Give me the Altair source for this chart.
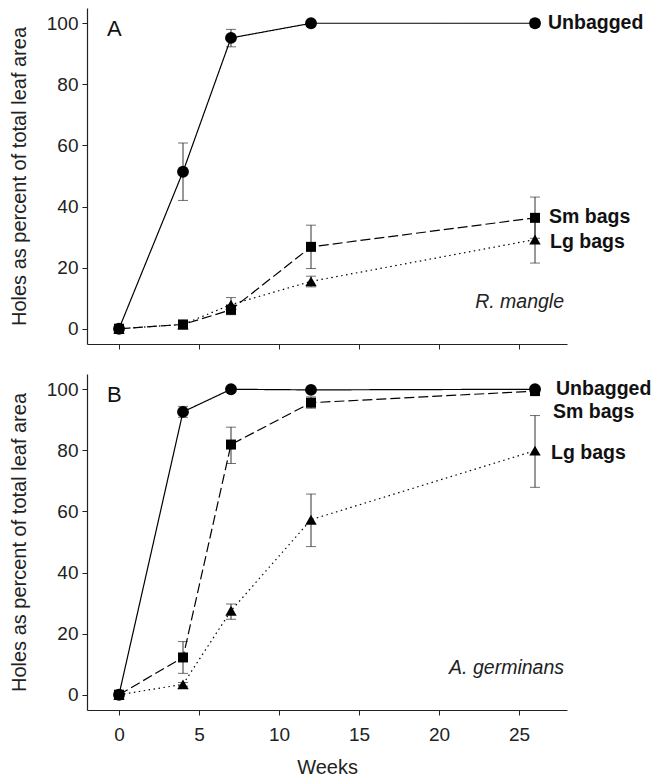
import altair as alt
import pandas as pd

# ---------------- data ----------------
weeks = [0, 4, 7, 12, 26]
series_names = ["Unbagged", "Sm bags", "Lg bags"]

# Panel A  (R. mangle)
a_unb = [0, 51.4, 95.2, 100.0, 100.0]
a_unb_lo = [0, 42.0, 92.3, 100.0, 98.8]
a_unb_hi = [0, 60.8, 98.0, 100.0, 101.3]
a_sm = [0, 1.4, 6.2, 26.8, 36.3]
a_sm_lo = [0, 0.7, 4.6, 19.7, 29.6]
a_sm_hi = [0, 2.1, 7.8, 33.9, 43.1]
a_lg = [0, 1.4, 7.9, 15.5, 29.2]
a_lg_lo = [0, 0.7, 5.6, 13.7, 21.5]
a_lg_hi = [0, 2.1, 10.2, 17.2, 36.9]

# Panel B  (A. germinans)
b_unb = [0, 92.6, 100.0, 99.8, 100.0]
b_unb_lo = [0, 90.8, 100.0, 99.8, 99.4]
b_unb_hi = [0, 94.4, 100.0, 99.8, 100.6]
b_sm = [0, 12.2, 81.9, 95.6, 99.4]
b_sm_lo = [0, 7.0, 75.7, 93.8, 99.0]
b_sm_hi = [0, 17.4, 87.6, 97.5, 99.8]
b_lg = [0, 3.4, 27.5, 57.3, 79.9]
b_lg_lo = [0, 2.8, 24.7, 48.5, 67.9]
b_lg_hi = [0, 4.0, 29.7, 65.7, 91.4]

x_ticks = [0, 5, 10, 15, 20, 25]
y_ticks = [0, 20, 40, 60, 80, 100]


def panel_df(vals, los, his):
    rows = []
    for s, v, lo, hi in zip(series_names, vals, los, his):
        for w, a, b, c in zip(weeks, v, lo, hi):
            rows.append(dict(series=s, week=w, value=a, lo=b, hi=c))
    return pd.DataFrame(rows)


df_a = panel_df([a_unb, a_sm, a_lg], [a_unb_lo, a_sm_lo, a_lg_lo], [a_unb_hi, a_sm_hi, a_lg_hi])
df_b = panel_df([b_unb, b_sm, b_lg], [b_unb_lo, b_sm_lo, b_lg_lo], [b_unb_hi, b_sm_hi, b_lg_hi])

FONT = "Liberation Sans"
W, H = 480, 336

x_scale = alt.Scale(domain=[-2, 28], nice=False, zero=False)
y_scale = alt.Scale(domain=[-5, 105], nice=False, zero=False)
dash_scale = alt.Scale(domain=series_names, range=[[1, 0], [10, 4], [1.5, 3.5]])
marker_style = {"Unbagged": ("circle", 140), "Sm bags": ("square", 100), "Lg bags": ("triangle-up", 130)}


def make_panel(df, letter, species, label_shift, show_x):
    if show_x:
        x_axis = alt.Axis(values=x_ticks, title="Weeks", labelPadding=10, titlePadding=13,
                          titleFontSize=20)
    else:
        x_axis = alt.Axis(values=x_ticks, labels=False, title=None)
    y_axis = alt.Axis(values=y_ticks, title="Holes as percent of total leaf area",
                      titlePadding=17, titleFontSize=20)
    X = alt.X("week:Q", scale=x_scale, axis=x_axis)

    base = alt.Chart(df)
    errs = base.transform_filter("datum.hi > datum.lo")
    rules = errs.mark_rule(color="#333", strokeWidth=1).encode(
        x=X, y=alt.Y("lo:Q", scale=y_scale, axis=y_axis), y2="hi:Q",
    )
    cap_lo = errs.mark_tick(color="#333", orient="horizontal", size=10, thickness=1).encode(
        x=X, y=alt.Y("lo:Q", scale=y_scale, axis=y_axis),
    )
    cap_hi = errs.mark_tick(color="#333", orient="horizontal", size=10, thickness=1).encode(
        x=X, y=alt.Y("hi:Q", scale=y_scale, axis=y_axis),
    )
    lines = base.mark_line(color="black", strokeWidth=1.2).encode(
        x=X,
        y=alt.Y("value:Q", scale=y_scale, axis=y_axis),
        detail="series:N",
        strokeDash=alt.StrokeDash("series:N", scale=dash_scale, legend=None),
        order="week:Q",
    )
    layers = [rules, cap_lo, cap_hi, lines]
    for s in series_names:
        shp, sz = marker_style[s]
        pts = base.transform_filter(alt.datum.series == s).mark_point(
            filled=True, color="black", opacity=1, shape=shp, size=sz,
        ).encode(x=X, y=alt.Y("value:Q", scale=y_scale, axis=y_axis))
        layers.append(pts)

    last = df[df.week == weeks[-1]]
    for s in series_names:
        row = last[last.series == s]
        dx, dy = label_shift[s]
        lab = alt.Chart(row).mark_text(
            align="left", baseline="middle", font=FONT, fontSize=19.5, fontWeight="bold",
            color="#111", dx=dx, dy=dy,
        ).encode(
            x=X, y=alt.Y("value:Q", scale=y_scale, axis=y_axis), text="series:N",
        )
        layers.append(lab)

    letter_t = alt.Chart(pd.DataFrame({"t": [letter]})).mark_text(
        align="left", baseline="alphabetic", font=FONT, fontSize=22, color="#111",
    ).encode(text="t:N", x=alt.value(20), y=alt.value(28))
    species_t = alt.Chart(pd.DataFrame({"t": [species]})).mark_text(
        align="right", baseline="alphabetic", font=FONT, fontSize=19.5, fontStyle="italic",
        color="#222",
    ).encode(text="t:N", x=alt.value(477), y=alt.value(300))
    layers += [letter_t, species_t]

    return alt.layer(*layers).properties(width=W, height=H)


panel_a = make_panel(
    df_a, "A", "R. mangle",
    {"Unbagged": (13, 0), "Sm bags": (14, -1), "Lg bags": (15, 2)},
    show_x=False,
)
panel_b = make_panel(
    df_b, "B", "A. germinans",
    {"Unbagged": (21, 0), "Sm bags": (18, 21), "Lg bags": (16, 2)},
    show_x=True,
)

chart = alt.vconcat(panel_a, panel_b, spacing=24).properties(
    padding={"left": 9, "top": 8, "right": 0, "bottom": 0}
).configure_view(stroke=None).configure_axis(
    grid=False,
    domainColor="#222",
    tickColor="#222",
    domainWidth=1.2,
    tickSize=5,
    labelFont=FONT,
    titleFont=FONT,
    labelFontSize=19,
    titleFontSize=20,
    titleFontWeight="normal",
    labelColor="#222",
    titleColor="#222",
    labelPadding=4,
)

chart.save("out.html", embed_options={"renderer": "svg", "actions": False})
